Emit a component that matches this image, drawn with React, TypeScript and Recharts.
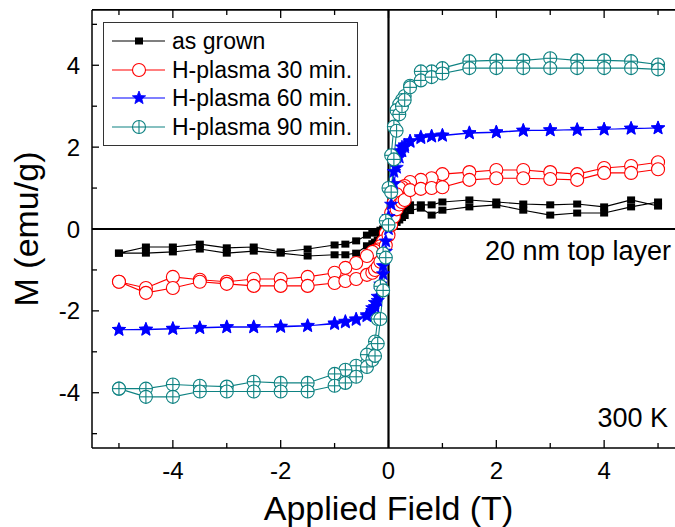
import { LineChart, Line, XAxis, YAxis, ReferenceLine } from 'recharts';

// applied field sweep, +5 T down to -5 T (the return sweep uses the same points reversed)
const FIELD_DOWN = [
  5, 4.5, 4, 3.5, 3, 2.5, 2, 1.5, 1, 0.8, 0.6, 0.4, 0.3, 0.25, 0.2, 0.15, 0.1, 0.05, 0,
  -0.05, -0.1, -0.15, -0.2, -0.25, -0.3, -0.4, -0.6, -0.8, -1, -1.5, -2, -2.5, -3, -3.5, -4, -4.5, -5,
];
const FIELD_UP = [...FIELD_DOWN].reverse();

// M (emu/g), down sweep follows FIELD_DOWN, up sweep follows FIELD_UP
const grownDown = [
  0.56, 0.71, 0.54, 0.61, 0.59, 0.61, 0.66, 0.71, 0.66, 0.59, 0.59, 0.59, 0.54, 0.48, 0.4, 0.32, 0.25, 0.18, 0.1,
  0.05, 0.0, -0.03, -0.06, -0.08, -0.1, -0.15, -0.29, -0.37, -0.39, -0.49, -0.56, -0.44, -0.46, -0.37, -0.44, -0.44, -0.59,
];
const grownUp = [
  -0.59, -0.59, -0.56, -0.49, -0.59, -0.54, -0.59, -0.66, -0.63, -0.63, -0.59, -0.41, -0.36, -0.32, -0.27, -0.22, -0.16, -0.1,
  -0.04, 0.03, 0.1, 0.16, 0.22, 0.28, 0.33, 0.45, 0.51, 0.34, 0.46, 0.54, 0.59, 0.46, 0.34, 0.39, 0.39, 0.54, 0.66,
];

const h30Down = [
  1.63, 1.54, 1.49, 1.34, 1.39, 1.44, 1.44, 1.39, 1.34, 1.24, 1.2, 1.15, 1.05, 1.02, 1.0, 0.85, 0.65, 0.4, 0.15,
  -0.1, -0.3, -0.42, -0.5, -0.53, -0.56, -0.66, -0.83, -0.95, -1.07, -1.17, -1.22, -1.22, -1.29, -1.24, -1.17, -1.44, -1.29,
];
const h30Up = [
  -1.29, -1.56, -1.44, -1.29, -1.34, -1.39, -1.39, -1.39, -1.32, -1.27, -1.22, -1.12, -1.07, -1.0, -0.92, -0.8, -0.6, -0.4,
  -0.15, 0.1, 0.3, 0.48, 0.6, 0.66, 0.71, 0.95, 0.98, 1.0, 1.02, 1.2, 1.24, 1.24, 1.22, 1.2, 1.37, 1.37, 1.46,
];

const h60Down = [
  2.46, 2.46, 2.43, 2.43, 2.41, 2.41, 2.37, 2.35, 2.29, 2.27, 2.25, 2.15, 2.05, 2.0, 1.9, 1.75, 1.4, 0.9, 0.3,
  -0.3, -0.9, -1.35, -1.65, -1.8, -1.93, -2.1, -2.2, -2.26, -2.3, -2.37, -2.39, -2.39, -2.39, -2.41, -2.44, -2.46, -2.46,
];
const h60Up = [
  -2.46, -2.45, -2.43, -2.42, -2.4, -2.4, -2.38, -2.36, -2.32, -2.28, -2.22, -2.13, -2.0, -1.9, -1.75, -1.5, -1.1, -0.55,
  0.0, 0.6, 1.1, 1.5, 1.75, 1.9, 2.0, 2.13, 2.22, 2.26, 2.28, 2.34, 2.36, 2.4, 2.42, 2.42, 2.44, 2.45, 2.47,
];

const h90Down = [
  4.02, 4.1, 4.12, 4.12, 4.17, 4.12, 4.12, 4.1, 3.93, 3.85, 3.85, 3.5, 3.25, 3.15, 3.05, 2.9, 2.5, 1.8, 1.0,
  0.2, -0.6, -1.4, -2.2, -2.75, -2.95, -3.07, -3.34, -3.44, -3.54, -3.76, -3.76, -3.73, -3.85, -3.83, -3.8, -3.9, -3.9,
];
const h90Up = [
  -3.9, -4.1, -4.1, -3.97, -3.97, -3.97, -3.97, -3.97, -3.83, -3.76, -3.61, -3.37, -3.2, -3.1, -2.8, -2.2, -1.5, -0.7,
  0.1, 0.9, 1.7, 2.4, 2.8, 3.0, 3.15, 3.46, 3.63, 3.71, 3.8, 3.93, 3.93, 3.93, 3.93, 3.93, 3.93, 3.93, 3.9,
];

const TICKS = [-5, -4, -3, -2, -1, 0, 1, 2, 3, 4, 5];
const X_DOMAIN: [number, number] = [-5.5, 5.5];
const Y_DOMAIN: [number, number] = [-5.35, 5.35];

const FONT = "'Liberation Sans', Arial, sans-serif";

type MarkerKind = 'square' | 'circle' | 'star' | 'crossCircle';

const SERIES: { name: string; color: string; marker: MarkerKind; down: number[]; up: number[] }[] = [
  { name: 'as grown', color: '#000000', marker: 'square', down: grownDown, up: grownUp },
  { name: 'H-plasma 30 min.', color: '#ff0000', marker: 'circle', down: h30Down, up: h30Up },
  { name: 'H-plasma 60 min.', color: '#0000ff', marker: 'star', down: h60Down, up: h60Up },
  { name: 'H-plasma 90 min.', color: '#0e8282', marker: 'crossCircle', down: h90Down, up: h90Up },
];

function loop(down: number[], up: number[]) {
  return [
    ...FIELD_DOWN.map((h, i) => ({ h, m: down[i] })),
    ...FIELD_UP.map((h, i) => ({ h, m: up[i] })),
  ];
}

function starPoints(cx: number, cy: number, ro: number, ri: number) {
  const pts: string[] = [];
  for (let i = 0; i < 10; i++) {
    const r = i % 2 === 0 ? ro : ri;
    const a = -Math.PI / 2 + (i * Math.PI) / 5;
    pts.push(`${cx + r * Math.cos(a)},${cy + r * Math.sin(a)}`);
  }
  return pts.join(' ');
}

function Marker({ kind, cx, cy, color }: { kind: MarkerKind; cx: number; cy: number; color: string }) {
  if (kind === 'square') {
    return <rect x={cx - 4} y={cy - 3.5} width={8} height={7} fill={color} />;
  }
  if (kind === 'circle') {
    return <circle cx={cx} cy={cy} r={6.5} fill="#fff" stroke={color} strokeWidth={1.1} />;
  }
  if (kind === 'star') {
    return <polygon points={starPoints(cx, cy, 7, 3)} fill={color} stroke={color} strokeWidth={0.8} />;
  }
  return (
    <g>
      <circle cx={cx} cy={cy} r={6.5} fill="#fff" stroke={color} strokeWidth={1.1} />
      <line x1={cx - 6.5} x2={cx + 6.5} y1={cy} y2={cy} stroke={color} strokeWidth={1.1} />
      <line x1={cx} x2={cx} y1={cy - 6.5} y2={cy + 6.5} stroke={color} strokeWidth={1.1} />
    </g>
  );
}

const isMajor = (v: number) => Math.abs(v) % 2 === 0;

function BottomTick({ x, y, payload }: any) {
  const v = payload.value;
  return (
    <g>
      <line x1={x} x2={x} y1={y} y2={y - (isMajor(v) ? 8 : 5)} stroke="#000" strokeWidth={1.3} />
      {isMajor(v) && Math.abs(v) < 5 && (
        <text x={x} y={y + 31} textAnchor="middle" fontSize={24} fontFamily={FONT} fill="#000">
          {String(v)}
        </text>
      )}
    </g>
  );
}

function TopTick({ x, y, payload }: any) {
  const v = payload.value;
  return <line x1={x} x2={x} y1={y} y2={y + (isMajor(v) ? 8 : 5)} stroke="#000" strokeWidth={1.3} />;
}

function LeftTick({ x, y, payload }: any) {
  const v = payload.value;
  return (
    <g>
      <line x1={x} x2={x + (isMajor(v) ? 7 : 5)} y1={y} y2={y} stroke="#000" strokeWidth={1.3} />
      {isMajor(v) && Math.abs(v) < 5 && (
        <text x={x - 12} y={y + 8.5} textAnchor="end" fontSize={24} fontFamily={FONT} fill="#000">
          {String(v)}
        </text>
      )}
    </g>
  );
}

function LegendBox() {
  return (
    <div
      style={{
        position: 'absolute',
        left: 103,
        top: 22,
        border: '1px solid #333',
        background: '#fff',
        width: 253,
        padding: '4px 0 4px 0',
        fontFamily: FONT,
        fontSize: 23,
        color: '#000',
      }}
    >
      {SERIES.map((s) => (
        <div key={s.name} style={{ display: 'flex', alignItems: 'center', height: 28.5 }}>
          <svg width={66} height={28} style={{ flex: 'none' }}>
            <line x1={8} x2={61} y1={14} y2={14} stroke={s.color} strokeWidth={1.2} />
            <Marker kind={s.marker} cx={35} cy={14} color={s.color} />
          </svg>
          <span style={{ marginLeft: 2, lineHeight: '28px' }}>{s.name}</span>
        </div>
      ))}
    </div>
  );
}

export default function App() {
  return (
    <div
      style={{
        position: 'absolute',
        left: 0,
        top: 0,
        width: 675,
        height: 527,
        overflow: 'hidden',
        background: '#fff',
      }}
    >
      <LineChart width={700} height={527} margin={{ top: 9, right: 15, left: 0, bottom: 0 }}>
        <XAxis
          xAxisId="bottom"
          dataKey="h"
          type="number"
          domain={X_DOMAIN}
          ticks={TICKS}
          interval={0}
          height={79}
          tickSize={0}
          tickMargin={0}
          tickLine={false}
          axisLine={{ stroke: '#000', strokeWidth: 1.5 }}
          tick={(p: any) => <BottomTick {...p} />}
          label={{
            content: ({ viewBox }: any) => (
              <text
                x={viewBox.x + viewBox.width / 2}
                y={viewBox.y + 72}
                textAnchor="middle"
                fontSize={34}
                fontFamily={FONT}
                fill="#000"
              >
                Applied Field (T)
              </text>
            ),
          }}
        />
        <XAxis
          xAxisId="top"
          orientation="top"
          dataKey="h"
          type="number"
          domain={X_DOMAIN}
          ticks={TICKS}
          interval={0}
          height={1}
          tickSize={0}
          tickMargin={0}
          tickLine={false}
          axisLine={{ stroke: '#000', strokeWidth: 1.5 }}
          tick={(p: any) => <TopTick {...p} />}
        />
        <YAxis
          yAxisId="left"
          type="number"
          domain={Y_DOMAIN}
          ticks={TICKS}
          interval={0}
          width={92}
          tickSize={0}
          tickMargin={0}
          tickLine={false}
          axisLine={{ stroke: '#000', strokeWidth: 1.5 }}
          tick={(p: any) => <LeftTick {...p} />}
          label={{
            content: ({ viewBox }: any) => {
              const cx = 26;
              const cy = viewBox.y + viewBox.height / 2;
              return (
                <text
                  x={cx}
                  y={cy}
                  transform={`rotate(-90 ${cx} ${cy})`}
                  textAnchor="middle"
                  dominantBaseline="central"
                  fontSize={34}
                  fontFamily={FONT}
                  fill="#000"
                >
                  M (emu/g)
                </text>
              );
            },
          }}
        />
        <ReferenceLine xAxisId="bottom" yAxisId="left" y={0} stroke="#000" strokeWidth={2.2} />
        <ReferenceLine xAxisId="bottom" yAxisId="left" x={0} stroke="#000" strokeWidth={2.2} />
        {/* invisible copy tied to the top axis so that it gets drawn */}
        <Line
          xAxisId="top"
          yAxisId="left"
          data={loop(grownDown, grownUp)}
          dataKey="m"
          stroke="none"
          dot={false}
          activeDot={false}
          legendType="none"
          isAnimationActive={false}
        />
        {SERIES.map((s) => (
          <Line
            key={s.name}
            xAxisId="bottom"
            yAxisId="left"
            data={loop(s.down, s.up)}
            dataKey="m"
            name={s.name}
            type="linear"
            stroke={s.color}
            strokeWidth={1.1}
            isAnimationActive={false}
            activeDot={false}
            dot={(p: any) => <Marker key={p.key ?? p.index} kind={s.marker} cx={p.cx} cy={p.cy} color={s.color} />}
          />
        ))}
      </LineChart>
      {/* top frame line, in case the top axis line is not drawn */}
      <div
        style={{
          position: 'absolute',
          left: 92,
          top: 9,
          width: 583,
          height: 0,
          borderTop: '1.5px solid #000',
        }}
      />
      <LegendBox />
      <div
        style={{
          position: 'absolute',
          right: 4,
          top: 236,
          fontFamily: FONT,
          fontSize: 27,
          color: '#000',
        }}
      >
        20 nm top layer
      </div>
      <div
        style={{
          position: 'absolute',
          right: 7,
          top: 403,
          fontFamily: FONT,
          fontSize: 27,
          color: '#000',
        }}
      >
        300 K
      </div>
    </div>
  );
}
